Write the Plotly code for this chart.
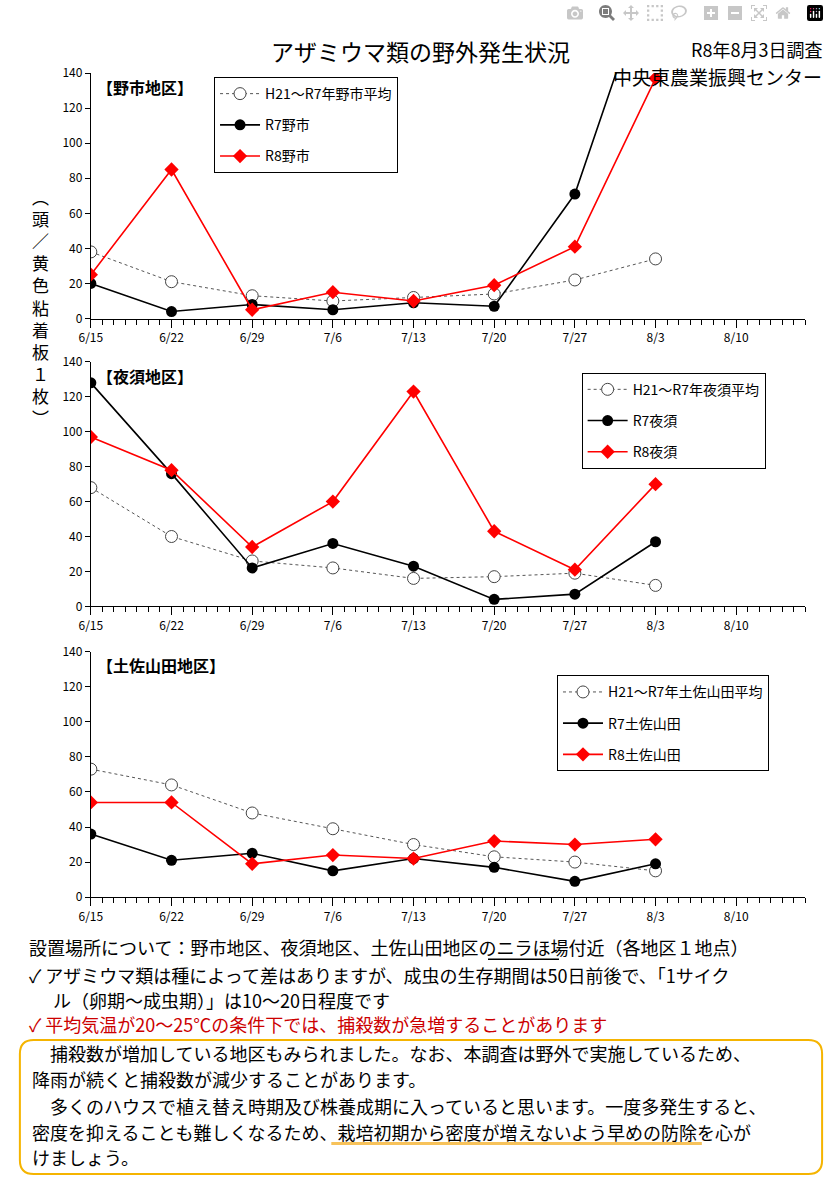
import plotly.graph_objects as go

dates = ["2026-06-15","2026-06-22","2026-06-29","2026-07-06","2026-07-13","2026-07-20","2026-07-27","2026-08-03"]
noichi_avg = [38, 21, 13, 10, 12, 14, 22, 34]
noichi_r7 = [20, 4, 8, 5, 9, 7, 71, 206]
noichi_r8 = [25, 85, 5, 15, 10, 19, 41, 137]
yasu_avg = [68, 40, 26, 22, 16, 17, 19, 12]
yasu_r7 = [128, 76, 22, 36, 23, 4, 7, 37]
yasu_r8 = [97, 78, 34, 60, 123, 43, 21, 70]
tosa_avg = [73, 64, 48, 39, 30, 23, 20, 15]
tosa_r7 = [36, 21, 25, 15, 22, 17, 9, 19]
tosa_r8 = [54, 54, 19, 24, 22, 32, 30, 33]
tickvals = ["2026-06-15","2026-06-22","2026-06-29","2026-07-06","2026-07-13","2026-07-20","2026-07-27","2026-08-03","2026-08-10"]
ticktext = ["6/15","6/22","6/29","7/6","7/13","7/20","7/27","8/3","8/10"]

FONT = "Noto Sans CJK JP, Noto Sans, sans-serif"
H = 1189; W = 829
fig = go.Figure()

panels = [
    ("野市", noichi_avg, noichi_r7, noichi_r8, "【野市地区】", 64, 313, (205, 415, 68)),
    ("夜須", yasu_avg, yasu_r7, yasu_r8, "【夜須地区】", 357, 605, (578, 805, 368)),
    ("土佐山田", tosa_avg, tosa_r7, tosa_r8, "【土佐山田地区】", 651, 900, (553, 805, 675)),
]
for i, (nm, avg, r7, r8, lab, ytop, ybot, leg) in enumerate(panels):
    n = "" if i == 0 else str(i + 1)
    lg = "legend" + n
    xa = "x" + n; ya = "y" + n
    fig.add_trace(go.Scatter(x=dates, y=avg, name=f"H21～R7年{nm}平均", mode="lines+markers",
        line=dict(color="#555", width=1, dash="dot"),
        marker=dict(symbol="circle", size=12, color="white", line=dict(color="#444", width=1)),
        xaxis=xa, yaxis=ya, legend=lg, legendgroup=f"a{i}"))
    fig.add_trace(go.Scatter(x=dates, y=r7, name=f"R7{nm}", mode="lines+markers",
        line=dict(color="black", width=1.6),
        marker=dict(symbol="circle", size=11, color="black"),
        xaxis=xa, yaxis=ya, legend=lg, legendgroup=f"b{i}"))
    fig.add_trace(go.Scatter(x=dates, y=r8, name=f"R8{nm}", mode="lines+markers",
        line=dict(color="red", width=1.6),
        marker=dict(symbol="diamond", size=11, color="red"),
        xaxis=xa, yaxis=ya, legend=lg, legendgroup=f"c{i}"))
    dom = [1 - ybot / H, 1 - ytop / H]
    fig.layout["xaxis" + n] = dict(domain=[80 / W, 805 / W], anchor=ya, type="date",
        range=["2026-06-15", "2026-08-16"], tickvals=tickvals, ticktext=ticktext,
        ticks="outside", ticklen=8, tickcolor="black", showline=True, linecolor="black",
        showgrid=False, zeroline=False, tickfont=dict(size=12, color="black", family=FONT),
        minor=dict(dtick=86400000, ticks="outside", ticklen=5, tickcolor="black", showgrid=False))
    fig.layout["yaxis" + n] = dict(domain=dom, anchor=xa, range=[0, 140], dtick=20,
        ticks="outside", ticklen=5, tickcolor="black", showline=True, linecolor="black",
        showgrid=False, zeroline=False, tickfont=dict(size=12, color="black", family=FONT))
    fig.layout[lg] = dict(x=leg[0] / W, y=1 - leg[2] / H, xanchor="left", yanchor="top",
        bordercolor="black", borderwidth=1, bgcolor="white", traceorder="grouped",
        tracegroupgap=10, font=dict(size=14, family=FONT, color="black"), itemwidth=40)
    fig.add_annotation(xref="paper", yref="paper", x=84 / W, y=1 - (ytop + 14) / H,
        text=f"<b>{lab}</b>", showarrow=False, xanchor="left", yanchor="middle",
        font=dict(size=16, family=FONT, color="black"))

fig.add_annotation(xref="paper", yref="paper", x=415 / W, y=1 - 22 / H, text="アザミウマ類の野外発生状況",
    showarrow=False, font=dict(size=23, family=FONT, color="black"))
fig.add_annotation(xref="paper", yref="paper", x=824 / W, y=1 - 24 / H, text="R8年8月3日調査",
    showarrow=False, xanchor="right", font=dict(size=18, family=FONT, color="black"))
fig.add_annotation(xref="paper", yref="paper", x=824 / W, y=1 - 52 / H, text="中央東農業振興センター",
    showarrow=False, xanchor="right", font=dict(size=19, family=FONT, color="black"))
fig.add_annotation(xref="paper", yref="paper", x=18 / W, y=1 - 175 / H,
    text="<br>".join("︵頭／黄色粘着板１枚︶"), showarrow=False,
    font=dict(size=17, family=FONT, color="black"))

lines = [
    (951, 15, "設置場所について：野市地区、夜須地区、土佐山田地区のニラほ場付近（各地区１地点）", "black"),
    (979, 15, "✓ アザミウマ類は種によって差はありますが、成虫の生存期間は50日前後で、「1サイク", "black"),
    (1004, 40, "ル（卵期～成虫期）」は10～20日程度です", "black"),
    (1029, 15, "✓ 平均気温が20～25℃の条件下では、捕殺数が急増することがあります", "#cc0000"),
    (1058, 18, "　捕殺数が増加している地区もみられました。なお、本調査は野外で実施しているため、", "black"),
    (1085, 18, "降雨が続くと捕殺数が減少することがあります。", "black"),
    (1112, 18, "　多くのハウスで植え替え時期及び株養成期に入っていると思います。一度多発生すると、", "black"),
    (1138, 18, "密度を抑えることも難しくなるため、栽培初期から密度が増えないよう早めの防除を心が", "black"),
    (1164, 18, "けましょう。", "black"),
]
for y, x, t, c in lines:
    fig.add_annotation(xref="paper", yref="paper", x=x / W, y=1 - y / H, text=t, showarrow=False,
        xanchor="left", yanchor="middle", font=dict(size=18, family=FONT, color=c))

r = 14
x0, x1, y0, y1 = 8, 822, 1045, 1181
path = (f"M {(x0 + r) / W},{1 - y0 / H} L {(x1 - r) / W},{1 - y0 / H} "
        f"Q {x1 / W},{1 - y0 / H} {x1 / W},{1 - (y0 + r) / H} L {x1 / W},{1 - (y1 - r) / H} "
        f"Q {x1 / W},{1 - y1 / H} {(x1 - r) / W},{1 - y1 / H} L {(x0 + r) / W},{1 - y1 / H} "
        f"Q {x0 / W},{1 - y1 / H} {x0 / W},{1 - (y1 - r) / H} L {x0 / W},{1 - (y0 + r) / H} "
        f"Q {x0 / W},{1 - y0 / H} {(x0 + r) / W},{1 - y0 / H} Z")
fig.add_shape(type="path", xref="paper", yref="paper", path=path, line=dict(color="#f5b400", width=2))
fig.add_shape(type="line", xref="paper", yref="paper", x0=483 / W, x1=555 / W, y0=1 - 963 / H, y1=1 - 963 / H,
    line=dict(color="black", width=1.5))
fig.add_shape(type="line", xref="paper", yref="paper", x0=324 / W, x1=700 / W, y0=1 - 1150 / H, y1=1 - 1150 / H,
    line=dict(color="#f7c25a", width=3))

fig.update_layout(width=W, height=H, margin=dict(l=0, r=0, t=0, b=0),
    paper_bgcolor="white", plot_bgcolor="white", font=dict(family=FONT))
fig.write_html("out.html", config={"responsive": False},
    post_script="document.body.style.margin='0';document.body.style.overflow='hidden';document.documentElement.style.overflow='hidden';")
